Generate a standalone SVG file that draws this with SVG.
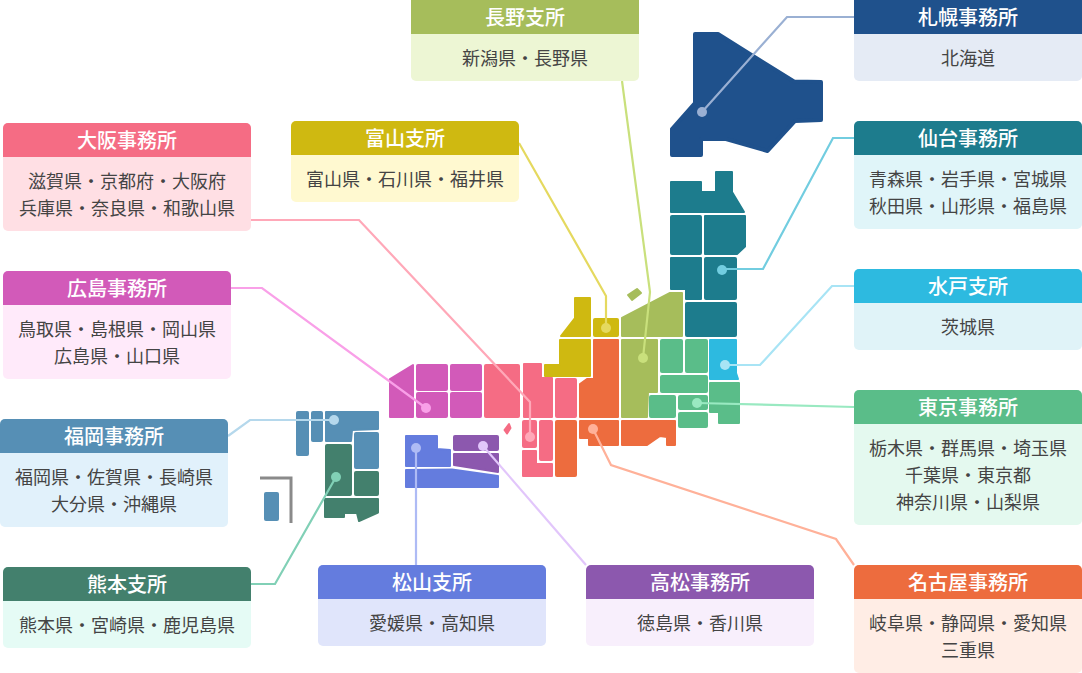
<svg xmlns="http://www.w3.org/2000/svg" width="1082" height="673" viewBox="0 0 1082 673">
<style>
text{font-family:"Noto Sans CJK JP","Noto Sans",sans-serif;text-anchor:middle}
.t{font-size:20px;font-weight:500;fill:#fff}
.b{font-size:18px;fill:#444}
.m rect{rx:2px}
.m polygon{stroke-width:2;stroke-linejoin:round}
.sap{fill:#1f518c;stroke:#1f518c}.sen{fill:#1d7c8d;stroke:#1d7c8d}.mit{fill:#2dbae0;stroke:#2dbae0}
.tok{fill:#5abd89;stroke:#5abd89}.nag{fill:#ed6c3e;stroke:#ed6c3e}.nan{fill:#a6bd5b;stroke:#a6bd5b}
.toy{fill:#cfb911;stroke:#cfb911}.osa{fill:#f56c84;stroke:#f56c84}.hir{fill:#d25ab9;stroke:#d25ab9}
.tak{fill:#8c58ae;stroke:#8c58ae}.mat{fill:#647cde;stroke:#647cde}.fuk{fill:#568fb5;stroke:#568fb5}.kum{fill:#43806d;stroke:#43806d}
.m rect{stroke:none}
.h{stroke:none}
#connectors polyline{fill:none;stroke-width:2.200}
</style>
<g id="map" class="m">
<g id="map-sapporo" class="sap"><polygon class="sap" style="stroke-width:4" points="695,34 718,34 794,81.500 821,82 821,120 795,121 767.500,151 726,139 701,139 701,155 672,155 672,129 695,103"/></g>
<g id="map-sendai" class="sen">
<polygon class="sen" points="671,182 701,182 701,192 716,192 716,172 732,172 732,192 744,212 671,212"/>
<rect x="670" y="215" width="32" height="40"/>
<polygon class="sen" points="705,216 745,216 745,246.500 737,254 705,254"/>
<polygon class="sen" points="671,258 701,258 701,299 686,299 686,289 671,289"/>
<rect x="704" y="257" width="33" height="43"/>
<rect x="685" y="302" width="52" height="35"/>
</g>
<g id="map-mito" class="mit"><polygon class="mit" points="710,340 736,340 736,373 738,379 710,379"/></g>
<g id="map-tokyo" class="tok">
<rect x="660" y="339" width="23" height="34"/>
<rect x="685" y="339" width="23" height="34"/>
<rect x="660" y="375" width="48" height="18"/>
<rect x="649" y="395" width="27" height="23"/>
<rect x="678" y="395" width="30" height="15"/>
<rect x="678" y="412" width="30" height="16"/>
<polygon class="tok" points="710,383 739,383 739,423 719,423 719,412 710,412"/>
</g>
<g id="map-nagoya" class="nag">
<polygon class="nag" points="594,340 618,340 618,417 580,417 580,384 587,379 594,379"/>
<polygon class="nag" points="580,421 618,421 618,445 589,445 589,438 580,438"/>
<polygon class="nag" points="622,421 675,421 675,445 667,445 667,437 660,436 647,445 622,445"/>
<rect x="555" y="420" width="22" height="57"/>
</g>
<g id="map-nagano" class="nan">
<polygon class="nan" points="622,318 670,293 682,293 682,336 622,336"/>
<polygon class="nan" points="628,295 637,289 641,293 632,300"/>
<polygon class="nan" points="622,340 657,340 657,392 648,392 647,417 622,417"/>
</g>
<g id="map-toyama" class="toy">
<rect x="593" y="318" width="26" height="19"/>
<polygon class="toy" points="575,298 590,298 590,336 561,336 575,318"/>
<polygon class="toy" points="560,340 590,340 590,376 545,376 545,365 560,365"/>
</g>
<g id="map-osaka" class="osa">
<rect x="484" y="364" width="36" height="54"/>
<polygon class="osa" points="524,364 541,364 541,378 552,378 552,417 524,417"/>
<rect x="555" y="378" width="22" height="40"/>
<polygon class="osa" points="504.500,430 509,424 510.500,428 507,433.500"/>
<rect x="522" y="420" width="15" height="28"/>
<rect x="539" y="420" width="14" height="41"/>
<polygon class="osa" points="523,451 536,451 536,464 552,464 552,476 523,476"/>
</g>
<g id="map-hiroshima" class="hir">
<polygon class="hir" points="390,379 413,365 413,417 390,417"/>
<rect x="416" y="364" width="32" height="27"/>
<rect x="416" y="392" width="32" height="26"/>
<rect x="450" y="364" width="32" height="27"/>
<rect x="450" y="392" width="32" height="26"/>
</g>
<g id="map-matsuyama" class="mat">
<polygon class="mat" points="406,436 437,436 437,449 450,450 450,466 406,466"/>
<polygon class="mat" points="406,470 452,469.500 498,476 498,487 406,487"/>
</g>
<g id="map-takamatsu" class="tak">
<rect x="453" y="435" width="46" height="16"/>
<polygon class="tak" points="454,454 498,454 498,472 454,465"/>
</g>
<g id="map-fukuoka" class="fuk">
<rect x="296" y="411" width="13" height="45"/>
<rect x="311" y="411" width="12" height="31"/>
<polygon class="fuk" points="326,412 378,412 378,429 352,430 351,441 326,441"/>
<rect x="354" y="432" width="25" height="37"/>
<rect x="264" y="492" width="15" height="29"/>
</g>
<g id="map-kumamoto" class="kum">
<rect x="325" y="444" width="27" height="52"/>
<rect x="354" y="471" width="25" height="25"/>
<polygon class="kum" points="325,499 378,499 378,512.500 359,521 357,513 344,513 344,517 325,517"/>
</g>
<polyline points="260,478 291,478 291,523" fill="none" stroke="#8a8a8a" stroke-width="3"/>
</g>
<g id="connectors">
<polyline stroke="#9ab0d3" points="854,17 787,17 702,112"/>
<polyline stroke="#c9e07c" points="622,81 650,292 643,358"/>
<polyline stroke="#e5d95f" points="519,143 606,296 606,328"/>
<polyline stroke="#ffa8b8" points="251,220 359,220 530,402 530,437"/>
<polyline stroke="#f9a0e8" points="231,288 262,288 426,408"/>
<polyline stroke="#b5d8ec" points="228,436 250,420 334,420"/>
<polyline stroke="#81d0b6" points="251,584 275,584 336,477"/>
<polyline stroke="#aebbf5" points="416,565 416,448"/>
<polyline stroke="#e2c6fb" points="586,565 483,446"/>
<polyline stroke="#ffb199" points="854,565 836,539 611,465 593,429"/>
<polyline stroke="#99e9c1" points="854,407 697,403"/>
<polyline stroke="#a8e4f5" points="854,286 832,286 760,365 725,365"/>
<polyline stroke="#72cde0" points="854,138 833,138 763,269 722,269"/>
<circle fill="#9ab0d3" cx="702" cy="112" r="5"/>
<circle fill="#c9e07c" cx="643" cy="358" r="5"/>
<circle fill="#e5d95f" cx="606" cy="328" r="5"/>
<circle fill="#ffa8b8" cx="530" cy="437" r="5"/>
<circle fill="#f9a0e8" cx="426" cy="408" r="5"/>
<circle fill="#b5d8ec" cx="334" cy="420" r="5"/>
<circle fill="#81d0b6" cx="336" cy="477" r="5"/>
<circle fill="#aebbf5" cx="416" cy="448" r="5"/>
<circle fill="#e2c6fb" cx="483" cy="446" r="5"/>
<circle fill="#ffb199" cx="593" cy="429" r="5"/>
<circle fill="#99e9c1" cx="697" cy="403" r="5"/>
<circle fill="#a8e4f5" cx="725" cy="365" r="5"/>
<circle fill="#72cde0" cx="722" cy="270" r="5"/>
</g>
<g id="nagano"><rect x="411" y="-6" width="228" height="87" rx="5" fill="#edf6d4"/><path class="h nan" d="M411 34V-1H639V34Z"/><text class="t" x="525" y="25">長野支所</text><text class="b" x="525" y="65">新潟県・長野県</text></g>
<g id="sapporo"><rect x="854" y="-6" width="228" height="87" rx="5" fill="#e5ebf5"/><path class="h sap" d="M854 34V-1H1082V34Z"/><text class="t" x="968" y="25">札幌事務所</text><text class="b" x="968" y="65">北海道</text></g>
<g id="osaka"><rect x="3" y="123" width="248" height="108" rx="5" fill="#ffdfe4"/><path class="h osa" d="M3 157V128a5 5 0 0 1 5-5H246a5 5 0 0 1 5 5V157Z"/><text class="t" x="127" y="148">大阪事務所</text><text class="b" x="127" y="188">滋賀県・京都府・大阪府</text><text class="b" x="127" y="215">兵庫県・奈良県・和歌山県</text></g>
<g id="toyama"><rect x="291" y="121" width="228" height="81" rx="5" fill="#fff9d0"/><path class="h toy" d="M291 155V126a5 5 0 0 1 5-5H514a5 5 0 0 1 5 5V155Z"/><text class="t" x="405" y="146">富山支所</text><text class="b" x="405" y="186">富山県・石川県・福井県</text></g>
<g id="sendai"><rect x="854" y="121" width="228" height="108" rx="5" fill="#e0f5f9"/><path class="h sen" d="M854 155V126a5 5 0 0 1 5-5H1077a5 5 0 0 1 5 5V155Z"/><text class="t" x="968" y="146">仙台事務所</text><text class="b" x="968" y="186">青森県・岩手県・宮城県</text><text class="b" x="968" y="213">秋田県・山形県・福島県</text></g>
<g id="hiroshima"><rect x="3" y="271" width="228" height="108" rx="5" fill="#ffeafa"/><path class="h hir" d="M3 305V276a5 5 0 0 1 5-5H226a5 5 0 0 1 5 5V305Z"/><text class="t" x="117" y="296">広島事務所</text><text class="b" x="117" y="336">鳥取県・島根県・岡山県</text><text class="b" x="117" y="363">広島県・山口県</text></g>
<g id="mito"><rect x="854" y="269" width="228" height="81" rx="5" fill="#e0f3f8"/><path class="h mit" d="M854 303V274a5 5 0 0 1 5-5H1077a5 5 0 0 1 5 5V303Z"/><text class="t" x="968" y="294">水戸支所</text><text class="b" x="968" y="334">茨城県</text></g>
<g id="tokyo"><rect x="854" y="390" width="228" height="135" rx="5" fill="#e4f9ef"/><path class="h tok" d="M854 424V395a5 5 0 0 1 5-5H1077a5 5 0 0 1 5 5V424Z"/><text class="t" x="968" y="415">東京事務所</text><text class="b" x="968" y="455">栃木県・群馬県・埼玉県</text><text class="b" x="968" y="482">千葉県・東京都</text><text class="b" x="968" y="509">神奈川県・山梨県</text></g>
<g id="fukuoka"><rect x="0" y="419" width="228" height="108" rx="5" fill="#e1f1fb"/><path class="h fuk" d="M0 453V424a5 5 0 0 1 5-5H223a5 5 0 0 1 5 5V453Z"/><text class="t" x="114" y="444">福岡事務所</text><text class="b" x="114" y="484">福岡県・佐賀県・長崎県</text><text class="b" x="114" y="511">大分県・沖縄県</text></g>
<g id="kumamoto"><rect x="3" y="567" width="248" height="81" rx="5" fill="#e5fbf5"/><path class="h kum" d="M3 601V572a5 5 0 0 1 5-5H246a5 5 0 0 1 5 5V601Z"/><text class="t" x="127" y="592">熊本支所</text><text class="b" x="127" y="632">熊本県・宮崎県・鹿児島県</text></g>
<g id="matsuyama"><rect x="318" y="565" width="228" height="81" rx="5" fill="#e0e5fb"/><path class="h mat" d="M318 599V570a5 5 0 0 1 5-5H541a5 5 0 0 1 5 5V599Z"/><text class="t" x="432" y="590">松山支所</text><text class="b" x="432" y="630">愛媛県・高知県</text></g>
<g id="takamatsu"><rect x="586" y="565" width="228" height="81" rx="5" fill="#f8effc"/><path class="h tak" d="M586 599V570a5 5 0 0 1 5-5H809a5 5 0 0 1 5 5V599Z"/><text class="t" x="700" y="590">高松事務所</text><text class="b" x="700" y="630">徳島県・香川県</text></g>
<g id="nagoya"><rect x="854" y="565" width="228" height="108" rx="5" fill="#ffede5"/><path class="h nag" d="M854 599V570a5 5 0 0 1 5-5H1077a5 5 0 0 1 5 5V599Z"/><text class="t" x="968" y="590">名古屋事務所</text><text class="b" x="968" y="630">岐阜県・静岡県・愛知県</text><text class="b" x="968" y="657">三重県</text></g>
</svg>
